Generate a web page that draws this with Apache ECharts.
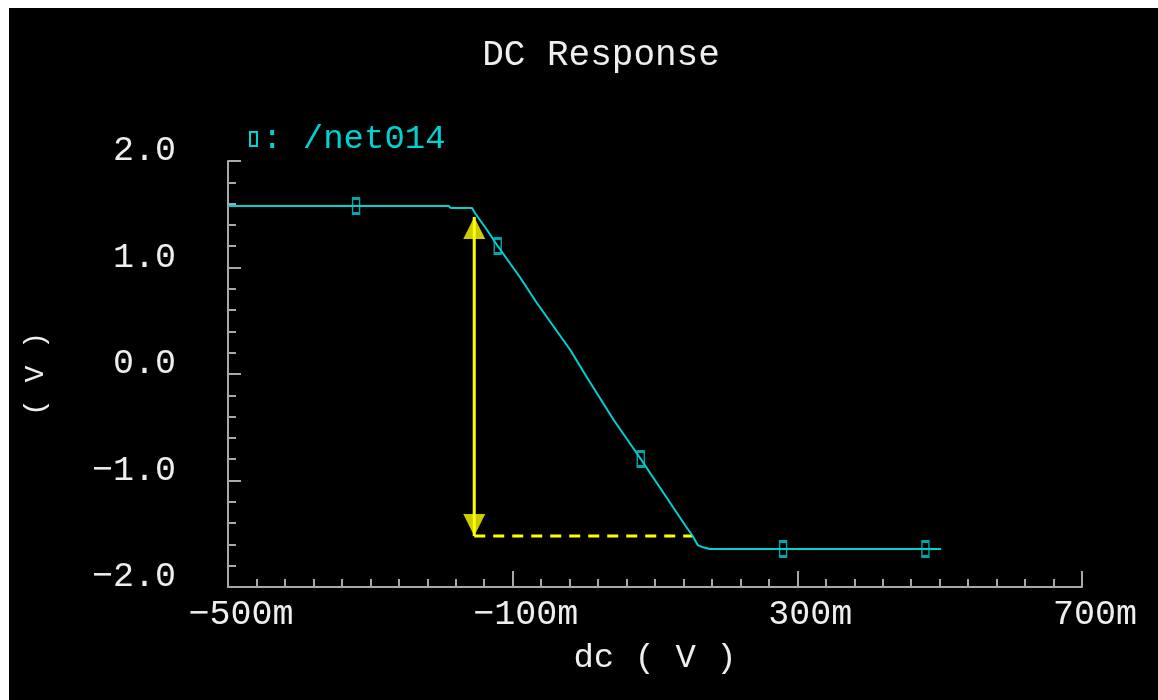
<!DOCTYPE html>
<html>
<head>
<meta charset="utf-8">
<title>DC Response</title>
<script src="https://cdn.jsdelivr.net/npm/echarts@6/dist/echarts.min.js"></script>
<style>
  html, body { margin: 0; padding: 0; background: #ffffff; }
  #frame { position: absolute; left: 9px; top: 8px; width: 1149px; height: 692px; background: #000; }
  #chart { position: absolute; left: -9px; top: -8px; width: 1158px; height: 700px; }
</style>
</head>
<body>
<div id="frame"><div id="chart"></div></div>
<script>
// Swept DC input (V) and output node voltage (V) of /net014
const curveDc = [-0.500, -0.190, -0.187, -0.157, -0.153, -0.136, -0.121, -0.090, -0.066, -0.043, -0.019, 0.004, 0.042, 0.080, 0.144, 0.153, 0.160, 0.166, 0.177, 0.502];
const curveV  = [ 1.577,  1.577,  1.559,  1.559,  1.512,  1.352,  1.202,  0.911,  0.667,  0.451,  0.225, -0.028, -0.432, -0.798, -1.437, -1.521, -1.606, -1.624, -1.643, -1.643];

// Trace markers placed along the sweep
const markerDc = [-0.32, -0.121, 0.080, 0.28, 0.48];
const markerV  = [ 1.577, 1.202, -0.798, -1.643, -1.643];

// Output swing annotation (arrow + dashed reference level)
const swingDc   = [-0.154, -0.154];
const swingV    = [ 1.474, -1.521];
const levelDc   = [-0.154, 0.153];
const levelV    = [-1.521, -1.521];

// Axis tick labels
const xTickValues = [-0.5, -0.1, 0.3, 0.7];
const xTickLabels = ['−500m', '−100m', '300m', '700m'];
const yTickLabels = ['−2.0', '−1.0', '0.0', '1.0', '2.0'];

const CYAN = '#00d2d2';
const YELLOW = '#ffff00';
const AXIS = '#a8a8a8';
const TEXT = '#eeeeee';
const FONT = 'Liberation Mono';

const zip = (a, b) => a.map((v, i) => [v, b[i]]);

const chart = echarts.init(document.getElementById('chart'), null, { renderer: 'canvas' });

chart.setOption({
  backgroundColor: 'transparent',
  animation: false,
  textStyle: { fontFamily: FONT },
  graphic: [{
    type: 'text',
    x: 601,
    y: 55,
    style: { text: 'DC Response', fill: TEXT, font: '36px ' + FONT, align: 'center', verticalAlign: 'middle' }
  }],
  legend: {
    left: 244,
    top: 117,
    itemWidth: 7,
    itemHeight: 14,
    itemGap: 5,
    formatter: ': {name}',
    textStyle: { color: CYAN, fontSize: 34, fontFamily: FONT },
    data: [{
      name: '/net014',
      icon: 'rect',
      itemStyle: { color: 'transparent', borderColor: CYAN, borderWidth: 2 }
    }]
  },
  grid: { left: 228, right: 76, top: 161, bottom: 113, containLabel: false },
  xAxis: {
    type: 'value',
    min: -0.5, max: 0.7, interval: 0.4,
    name: 'dc ( V )',
    nameLocation: 'middle',
    nameGap: 54,
    nameTextStyle: { color: TEXT, fontSize: 34, fontFamily: FONT },
    axisLine: { show: true, onZero: false, lineStyle: { color: AXIS, width: 2 } },
    axisTick: { show: true, inside: true, length: 16, lineStyle: { color: AXIS, width: 2 } },
    minorTick: { show: true, splitNumber: 10, length: 8, lineStyle: { color: AXIS, width: 2 } },
    splitLine: { show: false },
    axisLabel: {
      color: TEXT, fontSize: 35, fontFamily: FONT,
      margin: 10, padding: [0, 0, 0, 26],
      formatter: v => {
        const i = xTickValues.findIndex(t => Math.abs(t - v) < 1e-9);
        return i >= 0 ? xTickLabels[i] : '';
      }
    }
  },
  yAxis: {
    type: 'value',
    min: -2, max: 2, interval: 1,
    name: '( V )',
    nameLocation: 'middle',
    nameGap: 178,
    nameRotate: 90,
    nameTextStyle: { color: TEXT, fontSize: 28, fontFamily: FONT },
    axisLine: { show: true, onZero: false, lineStyle: { color: AXIS, width: 2 } },
    axisTick: { show: true, inside: true, length: 13, lineStyle: { color: AXIS, width: 2 } },
    minorTick: { show: true, splitNumber: 5, length: 8, lineStyle: { color: AXIS, width: 2 } },
    splitLine: { show: false },
    axisLabel: {
      color: TEXT, fontSize: 35, fontFamily: FONT,
      margin: 52, verticalAlign: 'bottom', lineHeight: 20,
      formatter: v => yTickLabels[Math.round(v) + 2]
    }
  },
  series: [
    {
      name: '/net014',
      type: 'line',
      data: zip(curveDc, curveV),
      symbol: 'none',
      lineStyle: { color: CYAN, width: 2 },
      itemStyle: { color: CYAN },
      z: 3
    },
    {
      name: 'markers',
      type: 'scatter',
      data: zip(markerDc, markerV),
      symbol: 'rect',
      symbolSize: [7, 15],
      itemStyle: { color: 'transparent', borderColor: CYAN, borderWidth: 2 },
      z: 4
    },
    {
      name: 'swing',
      type: 'line',
      data: zip(swingDc, swingV),
      symbol: 'none',
      lineStyle: { color: YELLOW, width: 3 },
      z: 2
    },
    {
      name: 'swingHeads',
      type: 'scatter',
      data: [
        { value: [swingDc[0], swingV[0]], symbolRotate: 0, symbolOffset: [0, 11] },
        { value: [swingDc[1], swingV[1]], symbolRotate: 180, symbolOffset: [0, -11] }
      ],
      symbol: 'triangle',
      symbolSize: [22, 22],
      itemStyle: { color: YELLOW },
      z: 2
    },
    {
      name: 'level',
      type: 'line',
      data: zip(levelDc, levelV),
      symbol: 'none',
      lineStyle: { color: YELLOW, width: 3, type: [11, 8] },
      z: 2
    }
  ]
});
</script>
</body>
</html>
